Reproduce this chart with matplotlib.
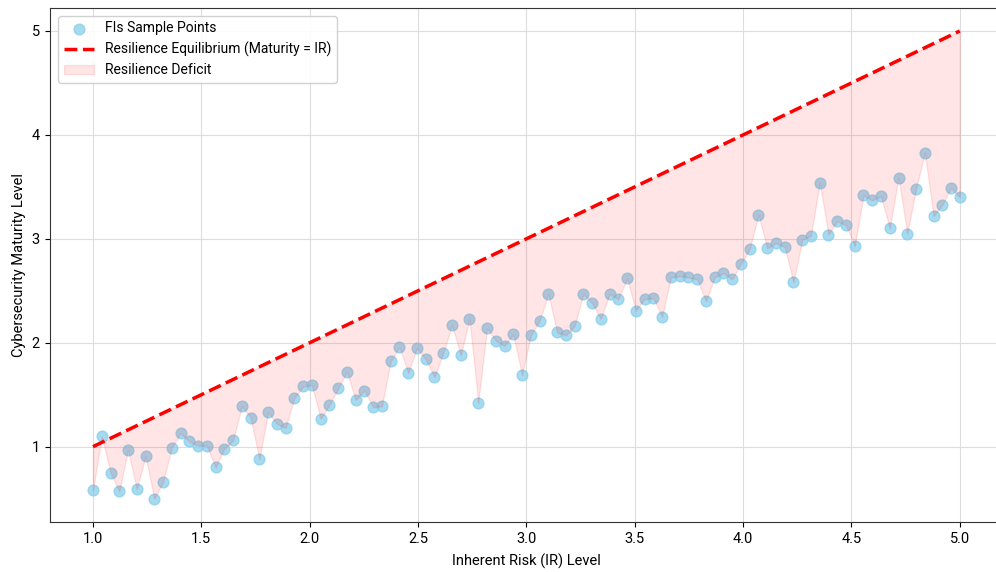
import numpy as np
import matplotlib
matplotlib.use("Agg")
import matplotlib.pyplot as plt

plt.rcParams["font.family"] = ["Roboto", "DejaVu Sans"]

# Inherent risk levels of the sampled institutions (100 evenly spaced points)
inherent_risk = np.linspace(1.0, 5.0, 100)

# Cybersecurity maturity
maturity = [
    0.58, 1.10, 0.75, 0.57, 0.97, 0.59, 0.91, 0.50, 0.66, 0.99,
    1.13, 1.05, 1.01, 1.01, 0.80, 0.98, 1.06, 1.39, 1.28, 0.88,
    1.33, 1.22, 1.18, 1.47, 1.58, 1.59, 1.27, 1.40, 1.56, 1.72,
    1.45, 1.54, 1.38, 1.39, 1.82, 1.96, 1.71, 1.95, 1.84, 1.67,
    1.90, 2.17, 1.88, 2.23, 1.42, 2.14, 2.02, 1.97, 2.08, 1.69,
    2.07, 2.21, 2.47, 2.10, 2.07, 2.16, 2.47, 2.38, 2.23, 2.47,
    2.42, 2.62, 2.31, 2.42, 2.43, 2.25, 2.63, 2.64, 2.63, 2.61,
    2.40, 2.63, 2.67, 2.61, 2.76, 2.90, 3.23, 2.91, 2.96, 2.92,
    2.58, 2.99, 3.03, 3.54, 3.04, 3.17, 3.13, 2.93, 3.42, 3.37,
    3.41, 3.10, 3.59, 3.05, 3.48, 3.83, 3.22, 3.33, 3.49, 3.40,
]
maturity = np.array(maturity)


def main():
    fig = plt.figure(figsize=(9.96, 5.72), dpi=100)
    # the reference is a crop: the right spine and the title sit just outside the picture
    ax = fig.add_axes([49.65 / 996, 50 / 572, 953.5 / 996, 514.4 / 572])

    ax.scatter(inherent_risk, maturity, s=60, color="skyblue", alpha=0.75,
               label="FIs Sample Points", zorder=2)
    ax.plot(inherent_risk, inherent_risk, "--", color="red", linewidth=2.5,
            label="Resilience Equilibrium (Maturity = IR)", zorder=3)
    ax.fill_between(inherent_risk, maturity, inherent_risk,
                    color="red", alpha=0.1,
                    label="Resilience Deficit", zorder=2.5)

    ax.set_xlabel("Inherent Risk (IR) Level", fontsize=10.5, labelpad=6)
    ax.set_ylabel("Cybersecurity Maturity Level", fontsize=10.5)
    ax.tick_params(labelsize=10.5)
    ax.set_yticks([1, 2, 3, 4, 5])
    ax.grid(True, color="#dddddd", linewidth=0.8)
    ax.set_axisbelow(True)
    for spine in ax.spines.values():
        spine.set_color("#333333")

    ax.legend(loc="upper left", fontsize=10, framealpha=0.9,
              borderpad=0.4, labelspacing=0.45, handlelength=2.2,
              borderaxespad=0.6)

    fig.savefig("out.png", dpi=100)
    plt.close(fig)


if __name__ == "__main__":
    main()
